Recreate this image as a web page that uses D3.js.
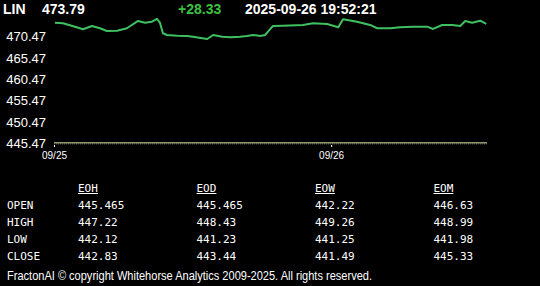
<!DOCTYPE html>
<html>
<head>
<meta charset="utf-8">
<script src="https://cdn.jsdelivr.net/npm/d3@7"></script>
<style>
	html, body { margin: 0; padding: 0; background: #000; }
	svg { display: block; }
</style>
</head>
<body>
<div id="chart"></div>
<script>
// quote header
var symbol = "LIN";
var lastPrice = "473.79";
var change = "+28.33";
var stamp = "2025-09-26 19:52:21";

// intraday price series
var times = [
	"2025-09-25 00:05", "2025-09-25 00:47", "2025-09-25 01:49", "2025-09-25 02:31", "2025-09-25 03:17",
	"2025-09-25 03:59", "2025-09-25 04:35", "2025-09-25 05:28", "2025-09-25 06:19", "2025-09-25 07:17",
	"2025-09-25 07:53", "2025-09-25 08:29", "2025-09-25 08:55", "2025-09-25 09:11", "2025-09-25 09:26",
	"2025-09-25 09:47", "2025-09-25 10:40", "2025-09-25 11:31", "2025-09-25 12:02", "2025-09-25 13:16",
	"2025-09-25 13:47", "2025-09-25 14:34", "2025-09-25 15:15", "2025-09-25 16:07", "2025-09-25 16:43",
	"2025-09-25 17:14", "2025-09-25 17:51", "2025-09-25 18:17", "2025-09-25 18:32", "2025-09-25 18:58",
	"2025-09-25 19:50", "2025-09-25 21:34", "2025-09-25 22:26", "2025-09-25 23:39", "2025-09-26 00:37",
	"2025-09-26 01:02", "2025-09-26 02:15", "2025-09-26 03:23", "2025-09-26 03:59", "2025-09-26 05:07",
	"2025-09-26 05:59", "2025-09-26 07:06", "2025-09-26 08:19", "2025-09-26 08:50", "2025-09-26 09:37",
	"2025-09-26 10:29", "2025-09-26 11:11", "2025-09-26 11:37", "2025-09-26 12:13", "2025-09-26 12:55",
	"2025-09-26 13:26"
];
var prices = [
	473.70, 473.56, 472.76, 472.16, 472.93,
	472.39, 471.76, 471.83, 472.39, 474.10,
	473.70, 473.93, 474.57, 473.63, 471.22,
	470.82, 470.66, 470.59, 470.42, 469.88,
	470.82, 470.42, 470.28, 470.42, 470.59,
	470.82, 470.59, 470.82, 471.59, 472.93,
	473.00, 473.16, 473.56, 473.40, 472.62,
	474.50, 473.93, 473.16, 472.39, 472.39,
	472.62, 472.76, 472.76, 472.23, 473.16,
	473.16, 472.93, 474.10, 473.70, 474.17,
	473.40
];
var prevClose = 445.46;

// axis ticks
var yTicks = [445.47, 450.47, 455.47, 460.47, 465.47, 470.47];
var xTicks = ["2025-09-25 00:00", "2025-09-26 00:00"];
var xDomain = ["2025-09-25 00:00", "2025-09-26 13:30"];
var yDomain = [445.47, 475.47];

// summary table
var tableCols = ["EOH", "EOD", "EOW", "EOM"];
var tableRows = ["OPEN", "HIGH", "LOW", "CLOSE"];
var openVals = ["445.465", "445.465", "442.22", "446.63"];
var highVals = ["447.22", "448.43", "449.26", "448.99"];
var lowVals = ["442.12", "441.23", "441.25", "441.98"];
var closeVals = ["442.83", "443.44", "441.49", "445.33"];

var footer = "FractonAI \u00a9 copyright Whitehorse Analytics 2009-2025. All rights reserved.";

var WIDTH = 540, HEIGHT = 286;
var LINE_COLOR = "#3fc060";
var UP_COLOR = "#3cc040";
var SANS = "'Liberation Sans', Arial, sans-serif";
var MONO = "'DejaVu Sans Mono', monospace";

var parse = d3.timeParse("%Y-%m-%d %H:%M");

var svg = d3.select("#chart").append("svg")
	.attr("width", WIDTH)
	.attr("height", HEIGHT)
	.style("background", "#000");

// scales
var x = d3.scaleTime().domain(xDomain.map(parse)).range([54, 487]);
var y = d3.scaleLinear().domain(yDomain).range([143.3, 15.1]);

// header
var header = svg.append("g")
	.attr("font-family", SANS)
	.attr("font-weight", "bold")
	.attr("font-size", 14);
header.append("text").attr("x", 3).attr("y", 14).attr("fill", "#fff").text(symbol);
header.append("text").attr("x", 42).attr("y", 14).attr("fill", "#fff").text(lastPrice);
header.append("text").attr("x", 178).attr("y", 14).attr("fill", UP_COLOR).text(change);
header.append("text").attr("x", 245).attr("y", 14).attr("fill", "#fff").text(stamp);

// y axis
var yAxis = svg.append("g")
	.attr("transform", "translate(49,0)")
	.call(d3.axisLeft(y).tickValues(yTicks).tickSize(0).tickPadding(3).tickFormat(d3.format(".2f")));
yAxis.select(".domain").remove();
yAxis.selectAll("text")
	.attr("fill", "#fff")
	.attr("font-family", SANS)
	.attr("font-size", 13);

// previous close baseline
svg.append("line")
	.attr("x1", x.range()[0]).attr("x2", x.range()[1])
	.attr("y1", y(prevClose) - 0.5).attr("y2", y(prevClose) - 0.5)
	.attr("stroke", "#d6e0a8").attr("stroke-width", 1);
svg.append("line")
	.attr("x1", x.range()[0]).attr("x2", x.range()[1])
	.attr("y1", y(prevClose) + 0.5).attr("y2", y(prevClose) + 0.5)
	.attr("stroke", "#7d8468").attr("stroke-width", 1)
	.attr("stroke-dasharray", "1,1");

// x axis
var xAxis = svg.append("g")
	.attr("transform", "translate(0,145)")
	.call(d3.axisBottom(x).tickValues(xTicks.map(parse)).tickSize(2).tickPadding(5).tickFormat(d3.timeFormat("%m/%d")));
xAxis.select(".domain").remove();
xAxis.selectAll("line").attr("stroke", "#fff");
xAxis.selectAll("text")
	.attr("fill", "#fff")
	.attr("font-family", SANS)
	.attr("font-size", 10);

// price line
var data = times.map(function (t, i) { return { date: parse(t), value: prices[i] }; });
svg.append("path")
	.datum(data)
	.attr("fill", "none")
	.attr("stroke", LINE_COLOR)
	.attr("stroke-width", 2)
	.attr("stroke-linejoin", "round")
	.attr("d", d3.line().x(function (d) { return x(d.date); }).y(function (d) { return y(d.value); }));

// summary table
var colX = d3.scalePoint().domain(tableCols).range([78, 433.5]);
var rowY = d3.scalePoint().domain(tableRows).range([204.7, 255.7]);
var rowVals = [openVals, highVals, lowVals, closeVals];

var table = svg.append("g")
	.attr("font-family", MONO)
	.attr("font-size", 11)
	.attr("fill", "#fff");

tableCols.forEach(function (c) {
	var t = table.append("text")
		.attr("x", colX(c))
		.attr("y", 187.7)
		.attr("dy", "0.35em")
		.text(c);
	var w = t.node().getComputedTextLength();
	table.append("line")
		.attr("x1", colX(c)).attr("x2", colX(c) + w)
		.attr("y1", 193.5).attr("y2", 193.5)
		.attr("stroke", "#fff").attr("stroke-width", 1);
});

tableRows.forEach(function (r, ri) {
	table.append("text")
		.attr("x", 7)
		.attr("y", rowY(r))
		.attr("dy", "0.35em")
		.text(r);
	tableCols.forEach(function (c, ci) {
		table.append("text")
			.attr("x", colX(c))
			.attr("y", rowY(r))
			.attr("dy", "0.35em")
			.text(rowVals[ri][ci]);
	});
});

// footer
svg.append("text")
	.attr("x", 7)
	.attr("y", 280)
	.attr("fill", "#fff")
	.attr("font-family", SANS)
	.attr("font-size", 12.5)
	.attr("textLength", 365)
	.attr("lengthAdjust", "spacingAndGlyphs")
	.text(footer);
</script>
</body>
</html>
